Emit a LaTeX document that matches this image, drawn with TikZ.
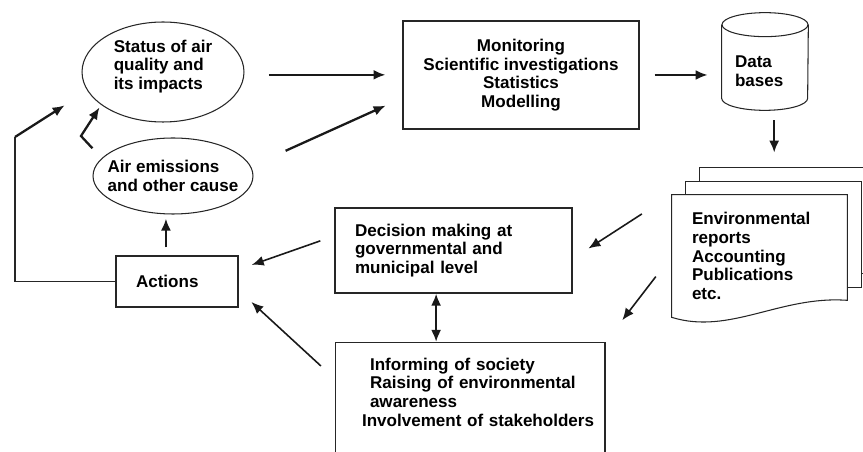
\documentclass[tikz,border=0pt]{standalone}
\usepackage{fontspec}
\setmainfont{Liberation Sans}
\usepackage{tikz}
\usetikzlibrary{shapes.geometric, arrows.meta, backgrounds}
\tikzset{
  labelfont/.style={font=\bfseries\fontsize{9.7}{10.6}\selectfont},
  bubble/.style={labelfont, ellipse, draw=black!85, line width=0.6pt, inner sep=0pt, align=left},
  infobox/.style={labelfont, rectangle, draw=black!85, line width=0.6pt, align=left},
  plaintext/.style={labelfont, rectangle, align=left},
  sheet/.style={draw=black!85, line width=0.6pt, fill=white},
  outline/.style={draw=black!85, line width=0.6pt},
  flow/.style={-{Latex[length=0.24cm, width=0.2cm]}, line width=1.3pt, draw=black!90},
  thinflow/.style={-{Latex[length=0.24cm, width=0.2cm]}, line width=0.9pt, draw=black!90},
  bothflow/.style={{Latex[length=0.24cm, width=0.2cm]}-{Latex[length=0.24cm, width=0.2cm]}, line width=1.3pt, draw=black!90}
}

\begin{document}
\begin{tikzpicture}[x=0.02cm, y=-0.02cm]
  \useasboundingbox (0,0) rectangle (863,452);

  % causes and state
  \node[bubble, minimum width=3.24cm, minimum height=2cm] at (163,72) (status)
    {Status of air\\quality and\\its impacts\rule[-0.3cm]{0pt}{0pt}};
  \node[bubble, minimum width=3.2cm, minimum height=1.52cm, inner xsep=-0.18cm] at (173,176) (emis)
    {Air emissions\\and other cause};
  \node[infobox, text width=1.64cm, inner xsep=0.4cm, minimum height=1.02cm] at (177,281.5) (actions)
    {Actions};

  % knowledge chain
  \node[infobox, align=center, minimum width=4.72cm, minimum height=2.16cm] at (521,75) (monit)
    {Monitoring\\Scientific investigations\\Statistics\\Modelling};
  \node[plaintext, text width=1.2cm, inner xsep=0.26cm, minimum width=1.72cm, minimum height=1.46cm] at (765,61.5) (db)
    {\rule{0pt}{0.63cm}Data\\bases};
  \node[plaintext, text width=2.7cm, inner xsep=0.4cm, minimum height=2.44cm] at (759.5,256) (reports)
    {Environmental\\reports\\Accounting\\Publications\\etc.};
  \node[infobox, text width=3.94cm, inner xsep=0.4cm, minimum height=1.7cm] at (453.5,250.5) (decision)
    {Decision making at\\governmental and\\municipal level};
  \node[infobox, anchor=north, text width=5cm, inner xsep=0.2cm, inner ysep=0.31cm] at (470,342) (inform)
    {\hspace*{0.5cm}Informing of society\\
     \hspace*{0.5cm}Raising of environmental\\
     \hspace*{0.5cm}awareness\\
     \hspace*{0.34cm}Involvement of stakeholders\rule[-0.41cm]{0pt}{0pt}};

  % data base drum
  \draw[outline] (db.north west) -- (db.south west)
    arc[start angle=180, end angle=360, x radius=0.86cm, y radius=0.24cm] -- (db.north east);
  \draw[outline] (db.north) ellipse[x radius=0.86cm, y radius=0.24cm];

  % stacked report sheets
  \begin{pgfonlayer}{background}
    \draw[sheet] ([shift={(0.56cm,0.54cm)}]reports.north west) rectangle ([shift={(0.56cm,0.88cm)}]reports.south east);
    \draw[sheet] ([shift={(0.28cm,0.26cm)}]reports.north west) rectangle ([shift={(0.28cm,0.6cm)}]reports.south east);
    \draw[sheet] (reports.south west) .. controls +(1.16cm,-0.36cm) and +(-1.34cm,0.1cm) .. ([yshift=0.34cm]reports.south east)
      -- (reports.north east) -- (reports.north west) -- cycle;
  \end{pgfonlayer}

  \draw[flow, shorten <=0.49cm, shorten >=0.34cm] (status.-2) -- (status.-2 -| monit.west);
  \draw[flow, shorten <=0.76cm, shorten >=0.37cm] (emis.7) -- (monit.191);
  \coordinate (kink) at (81,136);
  \draw[flow, shorten <=0.27cm, shorten >=0.06cm] (emis.166) -- (kink) -- (status.208);
  \coordinate (loop) at (15,137);
  \draw[outline] (actions.west) -| (loop);
  \draw[flow, shorten >=0.54cm] (loop) -- (status.194);
  \draw[flow, shorten <=0.16cm, shorten >=0.08cm] (actions.113) -- (actions.113 |- emis.south);

  \draw[flow, shorten <=0.3cm, shorten >=0.28cm] (monit.east) -- (monit.east -| db.west);
  \draw[flow, shorten <=0.44cm, shorten >=0.84cm] (db.-76) -- (db.-76 |- reports.north);
  \draw[thinflow, shorten <=0.71cm, shorten >=0.38cm] (reports.north west) -- (decision.-4);
  \draw[thinflow, shorten <=0.52cm, shorten >=0.55cm] (reports.west) -- (inform.north east);
  \draw[thinflow, shorten <=0.3cm, shorten >=0.28cm] (decision.173) -- (actions.11);
  \draw[thinflow, shorten <=0.37cm, shorten >=0.35cm] (inform.170) -- (actions.-8);
  \draw[bothflow] (decision.-112) -- (decision.-112 |- inform.north);
\end{tikzpicture}
\end{document}
